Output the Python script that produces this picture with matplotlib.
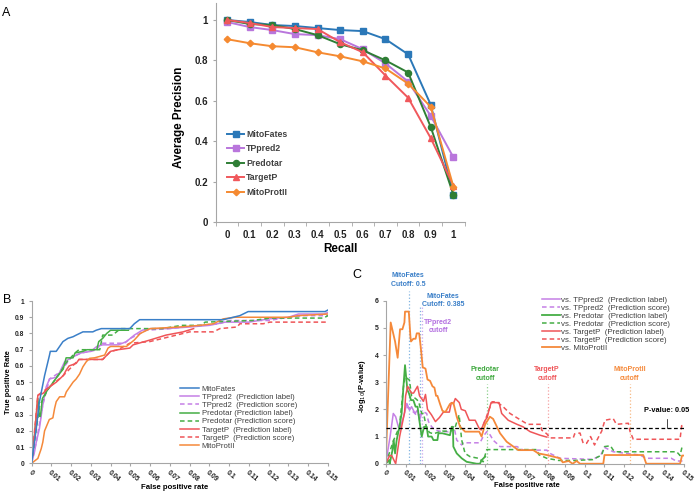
import matplotlib
matplotlib.use("Agg")
import matplotlib.pyplot as plt

plt.rcParams['font.family'] = ['Liberation Sans', 'DejaVu Sans']
plt.rcParams['axes.unicode_minus'] = False

# ---- panel A: average precision vs recall ----
recall_labels = ['0', '0.1', '0.2', '0.3', '0.4', '0.5', '0.6', '0.7', '0.8', '0.9', '1']
ap_mitofates = [1.0, 0.99, 0.975, 0.97, 0.96, 0.95, 0.945, 0.905, 0.83, 0.58, 0.135]
ap_tppred2 = [0.99, 0.965, 0.95, 0.93, 0.925, 0.905, 0.855, 0.785, 0.695, 0.525, 0.32]
ap_predotar = [1.0, 0.98, 0.975, 0.955, 0.925, 0.88, 0.85, 0.80, 0.74, 0.47, 0.135]
ap_targetp = [1.0, 0.985, 0.965, 0.96, 0.955, 0.89, 0.84, 0.725, 0.615, 0.415, 0.18]
ap_mitoprot = [0.905, 0.885, 0.87, 0.865, 0.84, 0.82, 0.795, 0.76, 0.685, 0.57, 0.175]

# ---- panel B: ROC curves (false positive rate, true positive rate) ----
b_mitofates_x = [0, 0.0024, 0.004, 0.0066, 0.0091, 0.0095, 0.0125, 0.0142, 0.0159, 0.0184, 0.021, 0.0226,
                 0.026, 0.031, 0.0327, 0.0353, 0.0497, 0.052, 0.0547, 0.097, 0.1054, 0.1096, 0.1485, 0.15]
b_mitofates_y = [0, 0.215, 0.38, 0.54, 0.667, 0.69, 0.69, 0.72, 0.75, 0.77, 0.78, 0.79,
                 0.81, 0.81, 0.82, 0.83, 0.83, 0.86, 0.885, 0.885, 0.91, 0.935, 0.935, 0.945]
b_tppred2_lab_x = [0, 0.0015, 0.0024, 0.004, 0.0057, 0.0074, 0.0091, 0.0125, 0.0142, 0.0167, 0.02, 0.025,
                   0.03, 0.033, 0.036, 0.044, 0.048, 0.052, 0.056, 0.06, 0.068, 0.08, 0.09, 0.098,
                   0.11, 0.12, 0.13, 0.135, 0.148, 0.15]
b_tppred2_lab_y = [0, 0.07, 0.13, 0.215, 0.36, 0.47, 0.52, 0.53, 0.56, 0.625, 0.65, 0.68,
                   0.69, 0.72, 0.73, 0.73, 0.75, 0.79, 0.82, 0.83, 0.83, 0.84, 0.85, 0.87,
                   0.87, 0.89, 0.9, 0.92, 0.92, 0.93]
b_tppred2_sc_x = [0, 0.0024, 0.0057, 0.0091, 0.0142, 0.02, 0.025, 0.03, 0.033, 0.035, 0.047, 0.05,
                  0.055, 0.058, 0.07, 0.085, 0.095, 0.1, 0.12, 0.13, 0.138, 0.15]
b_tppred2_sc_y = [0, 0.13, 0.36, 0.52, 0.56, 0.65, 0.68, 0.69, 0.7, 0.74, 0.74, 0.77,
                  0.8, 0.82, 0.83, 0.85, 0.86, 0.88, 0.88, 0.9, 0.91, 0.91]
b_predotar_lab_x = [0, 0.0015, 0.0032, 0.004, 0.0045, 0.0055, 0.008, 0.011, 0.014, 0.016, 0.0175,
                    0.021, 0.022, 0.026, 0.028, 0.033, 0.034, 0.036, 0.038, 0.040, 0.049]
b_predotar_lab_y = [0, 0.175, 0.4, 0.29, 0.29, 0.4, 0.45, 0.5, 0.55, 0.58, 0.65,
                    0.65, 0.68, 0.69, 0.7, 0.7, 0.75, 0.77, 0.8, 0.82, 0.82]
b_predotar_sc_x = [0, 0.004, 0.008, 0.014, 0.0175, 0.022, 0.024, 0.0345, 0.036, 0.041, 0.045, 0.066,
                   0.0759, 0.0861, 0.0878, 0.112, 0.1205, 0.1476, 0.15]
b_predotar_sc_y = [0, 0.35, 0.45, 0.55, 0.62, 0.68, 0.7, 0.7, 0.79, 0.79, 0.83, 0.83,
                   0.85, 0.85, 0.87, 0.88, 0.895, 0.895, 0.91]
b_targetp_lab_x = [0, 0.0015, 0.0032, 0.0057, 0.009, 0.0125, 0.016, 0.0176, 0.019, 0.0226, 0.024,
                   0.036, 0.038, 0.040, 0.0437, 0.0497, 0.0514, 0.06, 0.068, 0.0767, 0.082]
b_targetp_lab_y = [0, 0.16, 0.42, 0.43, 0.47, 0.5, 0.54, 0.575, 0.6, 0.616, 0.64,
                   0.64, 0.665, 0.69, 0.70, 0.71, 0.73, 0.76, 0.79, 0.81, 0.83]
b_targetp_sc_x = [0, 0.0032, 0.009, 0.016, 0.024, 0.036, 0.040, 0.0437, 0.0497, 0.0598, 0.0733, 0.080,
                  0.092, 0.0953, 0.104, 0.1054, 0.1172, 0.1206, 0.15]
b_targetp_sc_y = [0, 0.42, 0.47, 0.54, 0.64, 0.64, 0.69, 0.70, 0.74, 0.75, 0.79, 0.81,
                  0.81, 0.83, 0.84, 0.86, 0.86, 0.87, 0.87]
b_mitoprot_x = [0, 0.0032, 0.0049, 0.0057, 0.0066, 0.009, 0.0108, 0.0117, 0.0125, 0.0142, 0.0167, 0.0176,
                0.0193, 0.021, 0.0226, 0.0243, 0.026, 0.0277, 0.0294, 0.0319, 0.037, 0.0387, 0.040, 0.048,
                0.050, 0.052, 0.055, 0.060, 0.075, 0.085, 0.092, 0.097, 0.103, 0.130, 0.135, 0.150]
b_mitoprot_y = [0, 0.03, 0.09, 0.13, 0.2, 0.27, 0.28, 0.34, 0.38, 0.41, 0.41, 0.44,
                0.47, 0.5, 0.52, 0.55, 0.595, 0.626, 0.647, 0.65, 0.667, 0.71, 0.72, 0.72,
                0.74, 0.76, 0.8, 0.83, 0.84, 0.85, 0.86, 0.89, 0.9, 0.9, 0.91, 0.92]

# ---- panel C: -log10(P-value) of MitoFates vs. others ----
c_tppred2_lab_x = [0, 0.0022, 0.0038, 0.005, 0.0068, 0.009, 0.0106, 0.012, 0.013, 0.0147, 0.016, 0.017, 0.018]
c_tppred2_lab_y = [0, 1.0, 1.85, 1.73, 1.24, 1.73, 2.22, 1.98, 2.1, 1.85, 1.98, 1.6, 1.85]
c_tppred2_sc_x = [0.0106, 0.012, 0.014, 0.016, 0.0181, 0.019, 0.0206, 0.0215, 0.0231, 0.0248, 0.0281, 0.0315,
                  0.034, 0.0345, 0.0357, 0.0382, 0.039, 0.0474, 0.049, 0.0508, 0.052, 0.0541, 0.0558, 0.0575,
                  0.066, 0.0692, 0.081, 0.0826, 0.0876, 0.104, 0.108, 0.110, 0.1144, 0.1278, 0.131, 0.1436,
                  0.146, 0.150]
c_tppred2_sc_y = [2.1, 2.0, 1.9, 1.75, 1.85, 1.91, 1.85, 1.55, 1.36, 1.24, 1.18, 1.18,
                  1.36, 1.3, 0.87, 0.69, 0.77, 0.77, 1.0, 1.18, 1.12, 0.86, 0.75, 0.63,
                  0.63, 0.5, 0.5, 0.38, 0.2, 0.16, 0.3, 0.6, 0.44, 0.32, 0.2, 0.2,
                  0.1, 0.1]
c_predotar_lab_x = [0, 0.0017, 0.002, 0.0034, 0.004, 0.0047, 0.0055, 0.0069, 0.008, 0.0089, 0.0097, 0.0109,
                    0.0117, 0.0127, 0.0139, 0.015, 0.016, 0.0169, 0.0176, 0.0181, 0.0193, 0.0206, 0.0213,
                    0.0231, 0.024, 0.026, 0.0265, 0.0285, 0.0323, 0.0332, 0.0338, 0.034, 0.0357, 0.0382,
                    0.0407, 0.0457, 0.0474, 0.0482, 0.050]
c_predotar_lab_y = [0, 0.13, 0, 0.5, 0.87, 0.38, 0.87, 1.36, 1.85, 2.83, 3.63, 2.71,
                    2.59, 2.34, 2.34, 2.1, 2.1, 1.6, 1.24, 1.0, 1.36, 1.36, 1.0,
                    1.0, 0.87, 0.87, 1.12, 1.12, 1.05, 1.36, 1.36, 0.63, 0.38, 0.2,
                    0.07, 0, 0, 0.13, 0.26]
c_predotar_sc_x = [0, 0.004, 0.0069, 0.0089, 0.0097, 0.0119, 0.013, 0.015, 0.0165, 0.0181, 0.019, 0.0206,
                   0.022, 0.024, 0.026, 0.0285, 0.0323, 0.0345, 0.0369, 0.0382, 0.0399, 0.0424, 0.0466,
                   0.049, 0.0508, 0.0759, 0.077, 0.081, 0.087, 0.095, 0.104, 0.1086, 0.110, 0.113,
                   0.1144, 0.116, 0.1463, 0.148, 0.149, 0.150]
c_predotar_sc_y = [0, 0.87, 1.36, 2.83, 3.2, 3.08, 2.5, 2.4, 2.3, 1.85, 1.85, 1.3,
                   1.15, 1.1, 1.15, 1.2, 1.2, 1.25, 1.8, 0.87, 0.38, 0.26, 0.2,
                   0.07, 0.52, 0.52, 0.33, 0.2, 0.12, 0.12, 0.15, 0.32, 0.63, 0.66,
                   0.5, 0.44, 0.44, 0.3, 0.62, 0.62]
c_targetp_lab_x = [0, 0.002, 0.003, 0.005, 0.007, 0.0095, 0.010, 0.011, 0.013, 0.014, 0.016, 0.017,
                   0.019, 0.020, 0.021, 0.023, 0.025, 0.027, 0.029, 0.032, 0.033, 0.034, 0.035, 0.037,
                   0.038, 0.040, 0.042, 0.045, 0.047, 0.048, 0.050, 0.051, 0.052, 0.053, 0.057, 0.0583,
                   0.0616, 0.066, 0.069, 0.0726, 0.0776, 0.081]
c_targetp_lab_y = [0, 0.3, 0.3, 0.0, 1.0, 1.9, 2.5, 2.85, 2.6, 2.6, 2.85, 2.5,
                   2.3, 2.55, 2.0, 1.8, 1.55, 1.7, 1.9, 1.9, 2.25, 2.2, 2.4, 2.25,
                   2.0, 1.95, 1.6, 1.6, 1.3, 1.25, 1.6, 1.7, 2.0, 2.25, 2.25, 1.85,
                   1.6, 1.45, 1.36, 1.18, 1.05, 0.98]
c_targetp_sc_x = [0.047, 0.048, 0.050, 0.052, 0.0535, 0.0558, 0.059, 0.0625, 0.068, 0.0714, 0.0781, 0.0784,
                  0.081, 0.0826, 0.0943, 0.095, 0.0977, 0.0993, 0.101, 0.103, 0.105, 0.107, 0.1086,
                  0.1102, 0.1144, 0.116, 0.122, 0.1228, 0.1245, 0.148, 0.1488, 0.150]
c_targetp_sc_y = [1.3, 1.25, 1.6, 2.0, 2.28, 2.28, 2.1, 1.85, 1.6, 1.45, 1.45, 1.24,
                  1.1, 0.95, 0.95, 1.1, 1.13, 0.75, 0.75, 1.0, 0.69, 0.98, 1.2,
                  1.6, 1.66, 1.45, 1.49, 1.2, 0.9, 0.9, 1.4, 1.4]
c_mitoprot_x = [0, 0.0025, 0.0047, 0.006, 0.0072, 0.0084, 0.0094, 0.0097, 0.0116, 0.0124, 0.0127, 0.0139,
                0.015, 0.0156, 0.0168, 0.0176, 0.0186, 0.020, 0.021, 0.0223, 0.0235, 0.0245, 0.0253, 0.026,
                0.0273, 0.0285, 0.030, 0.0323, 0.034, 0.0357, 0.0374, 0.0399, 0.047, 0.0482, 0.050, 0.0524,
                0.054, 0.0575, 0.0608, 0.0642, 0.0667, 0.0742, 0.0767, 0.081, 0.0876, 0.089, 0.092, 0.094,
                0.096, 0.0977, 0.1094, 0.110, 0.1295, 0.131, 0.148, 0.149, 0.150]
c_mitoprot_y = [0, 5.2, 4.5, 3.9, 4.95, 4.95, 5.2, 5.6, 5.6, 4.7, 4.5, 4.6,
                4.6, 4.8, 4.8, 4.3, 3.55, 3.5, 3.1, 3.05, 2.85, 2.8, 2.5, 2.5,
                2.2, 1.95, 1.9, 2.2, 2.25, 1.73, 1.36, 1.18, 1.18, 1.0, 1.45, 1.73,
                1.65, 1.12, 0.81, 0.63, 0.5, 0.5, 0.38, 0.32, 0.2, 0.05, 0.1, 0.0,
                0.1, 0.0, 0.0, 0.32, 0.32, 0.0, 0.0, 0.3, 0.3]

# cutoff positions (false positive rate) and significance level
cutoff_mitofates_05 = 0.0117
cutoff_mitofates_0385 = 0.0172
cutoff_tppred2 = 0.0183
cutoff_predotar = 0.0509
cutoff_targetp = 0.0815
cutoff_mitoprot = 0.123
p_threshold = 1.301   # -log10(0.05)

fpr_ticks = [i / 100 for i in range(16)]
fpr_labels = ['0'] + ['%g' % t for t in fpr_ticks[1:]]

# colours
col_a = {'MitoFates': '#2B78B8', 'TPpred2': '#B976DC', 'Predotar': '#2F7E35',
         'TargetP': '#F0585C', 'MitoProtII': '#F58A31'}
c_blue = '#3A7FC8'
c_purple = '#C580E6'
c_green = '#45AE45'
c_red = '#EF5558'
c_orange = '#F5893A'
spine_col = '#A6A6A6'
text_col = '#404040'

fig = plt.figure(figsize=(6.96, 4.93), dpi=100)
fig.patch.set_facecolor('white')


def style_axes(ax):
    for s in ['top', 'right']:
        ax.spines[s].set_visible(False)
    for s in ['left', 'bottom']:
        ax.spines[s].set_color(spine_col)
        ax.spines[s].set_linewidth(0.8)
    ax.tick_params(colors=spine_col, labelcolor='#222222')


# ================= panel A =================
axA = fig.add_axes([0.3099, 0.5497, 0.3578, 0.4442])
style_axes(axA)
pos = list(range(len(recall_labels)))
axA.plot(pos, ap_mitofates, color=col_a['MitoFates'], marker='s', ms=4.4, lw=1.4, label='MitoFates')
axA.plot(pos, ap_tppred2, color=col_a['TPpred2'], marker='s', ms=4.4, lw=1.4, label='TPpred2')
axA.plot(pos, ap_predotar, color=col_a['Predotar'], marker='o', ms=4.4, lw=1.4, label='Predotar')
axA.plot(pos, ap_targetp, color=col_a['TargetP'], marker='^', ms=4.4, lw=1.4, label='TargetP')
axA.plot(pos, ap_mitoprot, color=col_a['MitoProtII'], marker='D', ms=3.3, lw=1.4, label='MitoProtII')
axA.set_xlim(-0.5, len(recall_labels) - 0.5)
axA.set_ylim(0, 1.084)
axA.set_xticks(pos)
axA.set_xticklabels(recall_labels, fontsize=7, fontweight='bold')
axA.set_xticks([p - 0.5 for p in pos] + [len(pos) - 0.5], minor=True)
axA.tick_params(axis='x', which='major', length=0, pad=6)
axA.tick_params(axis='x', which='minor', length=3, color=spine_col)
axA.set_yticks([0, 0.2, 0.4, 0.6, 0.8, 1.0])
axA.set_yticklabels(['0', '0.2', '0.4', '0.6', '0.8', '1'], fontsize=7, fontweight='bold')
axA.tick_params(axis='y', length=2)
axA.set_xlabel('Recall', fontsize=8.4, fontweight='bold')
axA.xaxis.set_label_coords(0.5, -0.095)
axA.set_ylabel('Average Precision', fontsize=8.4, fontweight='bold')
axA.yaxis.set_label_coords(-0.125, 0.477)
legA = axA.legend(loc='upper left', bbox_to_anchor=(0.045, 0.42), frameon=False,
                  prop={'size': 6.3, 'weight': 'bold'}, handlelength=2.0, handletextpad=0.2,
                  labelspacing=0.62, borderpad=0, borderaxespad=0)
for t in legA.get_texts():
    t.set_color(text_col)

# ================= panel B =================
axB = fig.add_axes([0.0453, 0.0602, 0.426, 0.3292])
style_axes(axB)
lw = 1.1
axB.plot(b_mitofates_x, b_mitofates_y, color=c_blue, lw=lw, label='MitoFates', zorder=5)
axB.plot(b_tppred2_lab_x, b_tppred2_lab_y, color=c_purple, lw=lw, label='TPpred2  (Prediction label)')
axB.plot(b_tppred2_sc_x, b_tppred2_sc_y, color=c_purple, lw=lw, ls='--', dashes=(3, 2),
         label='TPpred2  (Prediction score)')
axB.plot(b_predotar_lab_x, b_predotar_lab_y, color=c_green, lw=lw, label='Predotar (Prediction label)')
axB.plot(b_predotar_sc_x, b_predotar_sc_y, color=c_green, lw=lw, ls='--', dashes=(3, 2),
         label='Predotar (Prediction score)')
axB.plot(b_targetp_lab_x, b_targetp_lab_y, color=c_red, lw=lw, label='TargetP  (Prediction label)')
axB.plot(b_targetp_sc_x, b_targetp_sc_y, color=c_red, lw=lw, ls='--', dashes=(3, 2),
         label='TargetP  (Prediction score)')
axB.plot(b_mitoprot_x, b_mitoprot_y, color=c_orange, lw=lw, label='MitoProtII')
axB.set_xlim(0, 0.15)
axB.set_ylim(0, 1)
axB.set_xticks(fpr_ticks)
axB.set_xticklabels(fpr_labels, fontsize=5, fontweight='bold', rotation=-40,
                    ha='left', va='top', rotation_mode='anchor')
axB.set_yticks([i / 10 for i in range(11)])
axB.set_yticklabels(['0'] + ['%g' % (i / 10) for i in range(1, 10)] + ['1'], fontsize=4.8, fontweight='bold')
axB.tick_params(axis='x', length=2, pad=2)
axB.tick_params(axis='y', length=2, pad=3)
axB.set_xlabel('False positive rate', fontsize=5.6, fontweight='bold')
axB.xaxis.set_label_coords(0.484, -0.13)
axB.set_ylabel('True positive Rate', fontsize=5.3, fontweight='bold')
axB.yaxis.set_label_coords(-0.065, 0.5)
legB = axB.legend(loc='upper left', bbox_to_anchor=(0.5, 0.48), frameon=False, fontsize=5.6,
                  handlelength=2.5, handletextpad=0.3, labelspacing=0.09, borderpad=0, borderaxespad=0)
for t in legB.get_texts():
    t.set_color(text_col)

# ================= panel C =================
axC = fig.add_axes([0.5542, 0.0594, 0.4286, 0.3306])
style_axes(axC)
axC.plot(c_tppred2_lab_x, c_tppred2_lab_y, color=c_purple, lw=lw, label='vs. TPpred2  (Prediction label)')
axC.plot(c_tppred2_sc_x, c_tppred2_sc_y, color=c_purple, lw=lw, ls='--', dashes=(3, 2),
         label='vs. TPpred2  (Prediction score)')
axC.plot(c_predotar_lab_x, c_predotar_lab_y, color=c_green, lw=1.3, label='vs. Predotar  (Prediction label)')
axC.plot(c_predotar_sc_x, c_predotar_sc_y, color=c_green, lw=lw, ls='--', dashes=(3, 2),
         label='vs. Predotar  (Prediction score)')
axC.plot(c_targetp_lab_x, c_targetp_lab_y, color=c_red, lw=lw, label='vs. TargetP  (Prediction label)')
axC.plot(c_targetp_sc_x, c_targetp_sc_y, color=c_red, lw=lw, ls='--', dashes=(3, 2),
         label='vs. TargetP  (Prediction score)')
axC.plot(c_mitoprot_x, c_mitoprot_y, color=c_orange, lw=1.3, label='vs. MitoProtII')
axC.set_xlim(0, 0.15)
axC.set_ylim(0, 6)
axC.set_xticks(fpr_ticks)
axC.set_xticklabels(fpr_labels, fontsize=5, fontweight='bold', rotation=-40,
                    ha='left', va='top', rotation_mode='anchor')
axC.set_yticks(range(7))
axC.set_yticklabels([str(i) for i in range(7)], fontsize=5, fontweight='bold')
axC.tick_params(axis='x', length=2, pad=2)
axC.tick_params(axis='y', length=2, pad=3)
axC.set_xlabel('False positive rate', fontsize=5.4, fontweight='bold')
axC.xaxis.set_label_coords(0.473, -0.115)
axC.set_ylabel('-log$_{10}$(P-value)', fontsize=5.4, fontweight='bold')
axC.yaxis.set_label_coords(-0.058, 0.48)

# significance line
axC.axhline(p_threshold, color='black', lw=0.9, ls='--', dashes=(3, 2), zorder=6)
axC.plot([0.1413, 0.1413], [p_threshold, 1.65], color='black', lw=0.5)
axC.text(0.1413, 1.95, 'P-value: 0.05', fontsize=5.3, fontweight='bold', ha='center', va='center')

# cutoff lines and labels
cut_lines = [(cutoff_mitofates_05, 6.35, '#7FB2E0'), (cutoff_mitofates_0385, 5.85, '#7FB2E0'),
             (cutoff_tppred2, 5.85, '#C9A6EE'), (cutoff_predotar, 2.95, '#8CD08C'),
             (cutoff_targetp, 2.95, '#F5A0A2'), (cutoff_mitoprot, 2.95, '#F7B985')]
for xc, top, col in cut_lines:
    axC.plot([xc, xc], [0, top], color=col, lw=0.9, ls=':', clip_on=False, zorder=1)

cut_texts = [(0.0112, 6.76, 'MitoFates\nCutoff: 0.5', '#3A7FC8'),
             (0.0288, 6.0, 'MitoFates\nCutoff: 0.385', '#3A7FC8'),
             (0.0263, 5.05, 'TPpred2\ncutoff', '#B36FE0'),
             (0.0500, 3.3, 'Predotar\ncutoff', '#3DA83D'),
             (0.0811, 3.3, 'TargetP\ncutoff', '#EF5558'),
             (0.1228, 3.3, 'MitoProtII\ncutoff', '#F5893A')]
for xt, yt, s, col in cut_texts:
    axC.text(xt, yt, s, fontsize=5, fontweight='bold', color=col, ha='center', va='center',
             linespacing=1.25, clip_on=False)

legC = axC.legend(loc='upper left', bbox_to_anchor=(0.523, 1.025), frameon=False, fontsize=5.7,
                  handlelength=2.3, handletextpad=0.15, labelspacing=0.05, borderpad=0, borderaxespad=0)
for t in legC.get_texts():
    t.set_color(text_col)

# panel letters
fig.text(0.003, 0.985, 'A', fontsize=9, ha='left', va='top')
fig.text(0.005, 0.403, 'B', fontsize=9, ha='left', va='top')
fig.text(0.507, 0.455, 'C', fontsize=9, ha='left', va='top')

fig.savefig('out.png', dpi=100, facecolor='white')
plt.close(fig)
